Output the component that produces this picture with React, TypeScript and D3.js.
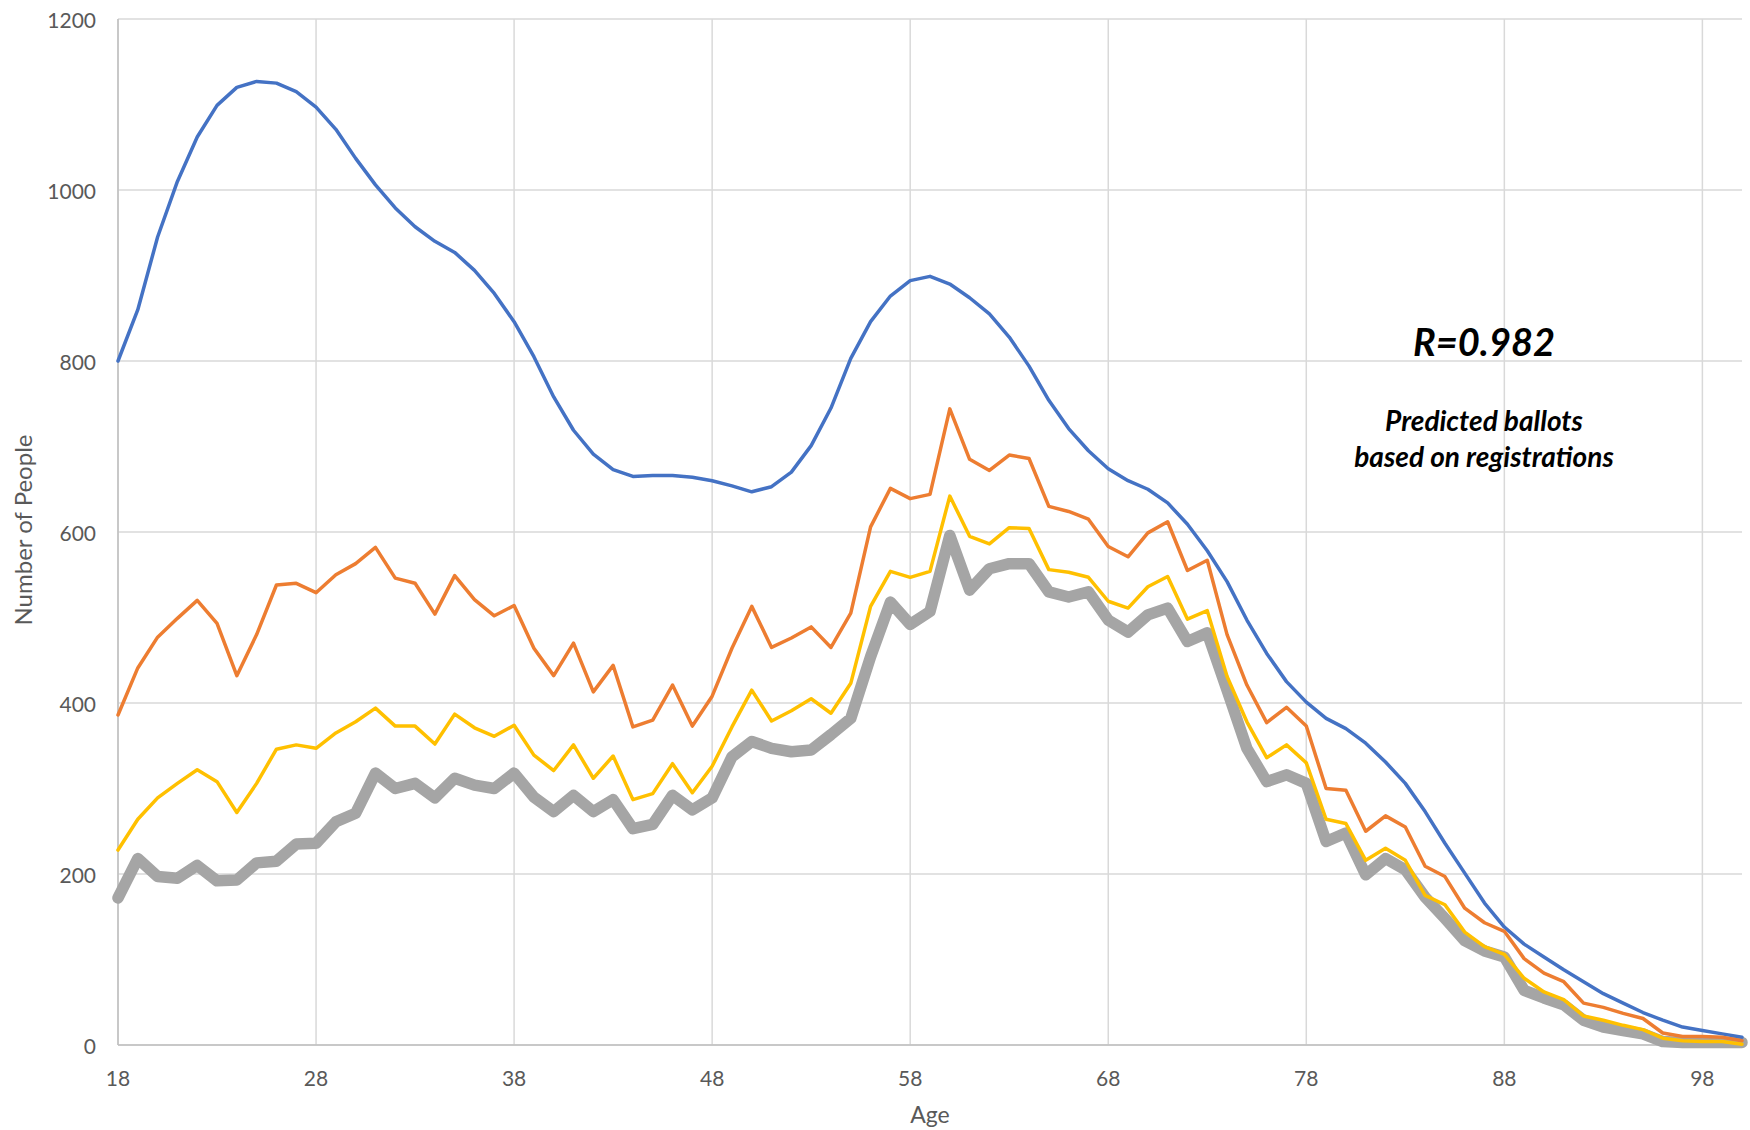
import React, { useEffect } from "react";
import * as d3 from "d3";

const ages: number[] = d3.range(18, 101);

const registered: number[] = [
  800, 860, 945, 1010, 1062, 1099, 1120, 1127, 1125, 1115, 1097, 1071, 1037, 1006, 979, 957, 940, 927, 906, 879,
  846, 805, 758, 719, 691, 673, 665, 666, 666, 664, 660, 654, 647, 653, 670, 701, 745, 803, 846, 876,
  894, 899, 890, 874, 855, 828, 794, 754, 721, 695, 674, 660, 650, 634, 609, 578, 542, 497, 458, 425,
  401, 382, 370, 353, 331, 306, 273, 236, 201, 166, 138, 118, 103, 88, 74, 60, 49, 38, 29, 21,
  17, 13, 9,
];

const seriesOrange: number[] = [
  386, 441, 477, 499, 520, 493, 432, 480, 538, 540, 529, 550, 563, 582, 546, 540, 504, 549, 521, 502,
  514, 464, 432, 470, 413, 444, 372, 380, 421, 373, 408, 464, 513, 465, 476, 489, 465, 505, 606, 651,
  639, 644, 744, 685, 672, 690, 686, 630, 624, 615, 583, 571, 599, 612, 555, 567, 480, 421, 377, 395,
  373, 300, 298, 250, 268, 255, 209, 197, 160, 143, 133, 101, 84, 74, 49, 44, 37, 31, 14, 10,
  10, 9, 5,
];

const seriesYellow: number[] = [
  228, 264, 289, 306, 322, 308, 272, 306, 346, 351, 347, 365, 378, 394, 373, 373, 352, 387, 371, 361,
  374, 339, 321, 351, 312, 338, 287, 294, 329, 295, 326, 372, 415, 379, 391, 405, 388, 423, 513, 554,
  547, 554, 642, 595, 586, 605, 604, 556, 553, 547, 519, 511, 536, 548, 498, 508, 431, 378, 336, 351,
  330, 264, 259, 216, 230, 216, 175, 164, 132, 115, 106, 78, 62, 53, 34, 29, 23, 18, 8, 5,
  4, 4, 1,
];

const seriesGray: number[] = [
  172, 218, 197, 195, 210, 192, 193, 213, 215, 235, 236, 261, 271, 318, 300, 306, 289, 312, 304, 300,
  318, 290, 273, 292, 273, 287, 253, 258, 292, 275, 289, 337, 355, 347, 343, 345, 363, 382, 454, 518,
  492, 507, 596, 532, 557, 563, 563, 530, 524, 530, 497, 483, 503, 511, 472, 482, 415, 347, 308, 316,
  306, 238, 248, 199, 218, 205, 173, 148, 122, 110, 103, 64, 55, 47, 29, 21, 17, 13, 4, 3,
  3, 3, 3,
];

const xTicks: number[] = [18, 28, 38, 48, 58, 68, 78, 88, 98];
const yTicks: number[] = [0, 200, 400, 600, 800, 1000, 1200];

const FONT = "Lato, 'Open Sans', sans-serif";

export default function App() {
  useEffect(() => {
    document.body.style.margin = "0";
  }, []);

  const W = 1750;
  const H = 1130;
  const left = 118;
  const right = 1742;
  const top = 19;
  const bottom = 1045;

  const x = d3.scaleLinear().domain([18, 100]).range([left, right]);
  const y = d3.scaleLinear().domain([0, 1200]).range([bottom, top]);

  const line = d3
    .line<number>()
    .x((_, i) => x(ages[i]))
    .y((d) => y(d));

  const series = [
    { values: seriesGray, color: "#A5A5A5", width: 11.5 },
    { values: registered, color: "#4472C4", width: 3.5 },
    { values: seriesOrange, color: "#ED7D31", width: 3.5 },
    { values: seriesYellow, color: "#FFC000", width: 3.5 },
  ];

  return (
    <svg width={W} height={H} style={{ display: "block", background: "#fff" }}>
      {yTicks.map((t) => (
        <line key={"hy" + t} x1={left} x2={right} y1={y(t)} y2={y(t)} stroke="#D9D9D9" strokeWidth={1.5} />
      ))}
      {xTicks.map((t) => (
        <line key={"vx" + t} x1={x(t)} x2={x(t)} y1={top} y2={bottom} stroke="#D9D9D9" strokeWidth={1.5} />
      ))}
      <line x1={left} x2={left} y1={top} y2={bottom} stroke="#BFBFBF" strokeWidth={1.5} />
      <line x1={left} x2={right} y1={bottom} y2={bottom} stroke="#BFBFBF" strokeWidth={1.5} />

      {yTicks.map((t) => (
        <text key={"yl" + t} x={96} y={y(t)} textAnchor="end" dominantBaseline="central" fontFamily={FONT} fontSize={21} fill="#595959">
          {t}
        </text>
      ))}
      {xTicks.map((t) => (
        <text key={"xl" + t} x={x(t)} y={1077} textAnchor="middle" dominantBaseline="central" fontFamily={FONT} fontSize={21} fill="#595959">
          {t}
        </text>
      ))}

      <text x={930} y={1114} textAnchor="middle" dominantBaseline="central" fontFamily={FONT} fontSize={23} fill="#595959">
        Age
      </text>
      <text transform="translate(22,530) rotate(-90)" textAnchor="middle" dominantBaseline="central" fontFamily={FONT} fontSize={24} fill="#595959">
        Number of People
      </text>

      {series.map((s, i) => (
        <path key={i} d={line(s.values) || ""} fill="none" stroke={s.color} strokeWidth={s.width} strokeLinejoin="round" strokeLinecap="round" />
      ))}

      <text x={1484} y={341} textAnchor="middle" dominantBaseline="central" fontFamily={FONT} fontSize={38} fontWeight="bold" fontStyle="italic" fill="#000">
        R=0.982
      </text>
      <text x={1484} y={420} textAnchor="middle" dominantBaseline="central" fontFamily={FONT} fontSize={28} fontWeight="bold" fontStyle="italic" fill="#000">
        Predicted ballots
      </text>
      <text x={1484} y={456} textAnchor="middle" dominantBaseline="central" fontFamily={FONT} fontSize={28} fontWeight="bold" fontStyle="italic" fill="#000">
        based on registrations
      </text>
    </svg>
  );
}
